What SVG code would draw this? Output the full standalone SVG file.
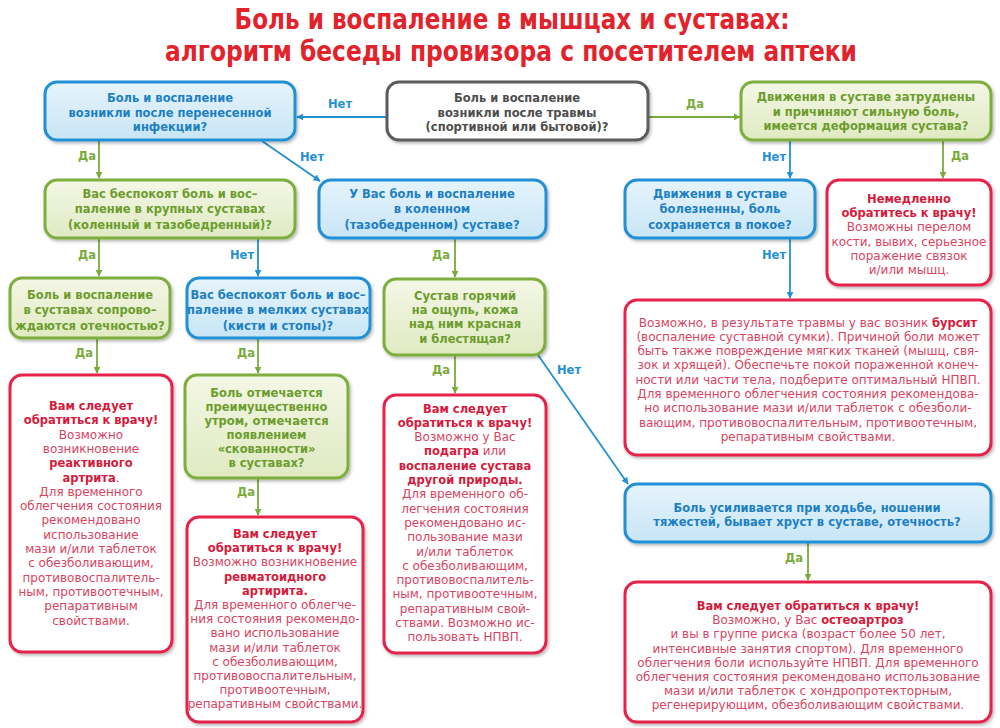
<svg xmlns="http://www.w3.org/2000/svg" width="1000" height="728" viewBox="0 0 1000 728">
<defs>
<linearGradient id="gBlue" x1="0" y1="0" x2="0" y2="1"><stop offset="0" stop-color="#e6f4fc"/><stop offset="1" stop-color="#c8e5f6"/></linearGradient>
<linearGradient id="gGreen" x1="0" y1="0" x2="0" y2="1"><stop offset="0" stop-color="#f4f7e6"/><stop offset="1" stop-color="#dfeac2"/></linearGradient>
<filter id="sh" x="-10%" y="-10%" width="120%" height="130%"><feDropShadow dx="1.5" dy="2" stdDeviation="1.5" flood-color="#000" flood-opacity="0.28"/></filter>
<marker id="aB" viewBox="0 0 10 10" refX="9" refY="5" markerWidth="7" markerHeight="7" markerUnits="userSpaceOnUse" orient="auto"><path d="M0,0 L10,5 L0,10 z" fill="#2490d5"/></marker>
<marker id="aG" viewBox="0 0 10 10" refX="9" refY="5" markerWidth="7" markerHeight="7" markerUnits="userSpaceOnUse" orient="auto"><path d="M0,0 L10,5 L0,10 z" fill="#7aab3a"/></marker>
<style>
.title{font-family:"Liberation Sans Narrow","DejaVu Sans Condensed","Liberation Sans",sans-serif;font-stretch:condensed;font-weight:700;font-size:28.5px;fill:#e2232c;text-anchor:middle}
.bb{fill:url(#gBlue);stroke:#2490d5;stroke-width:3;filter:url(#sh)}
.bg{fill:url(#gGreen);stroke:#7eae3d;stroke-width:3;filter:url(#sh)}
.bk{fill:#fff;stroke:#5b5b5b;stroke-width:3;filter:url(#sh)}
.br{fill:#fff;stroke:#e5224a;stroke-width:3;filter:url(#sh)}
.q{font-family:"DejaVu Sans","Liberation Sans",sans-serif;font-weight:700;font-size:11.5px;text-anchor:middle}
.qb{fill:#1d7fc3}.qg{fill:#6c9c2c}.qk{fill:#4d4d4d}
.r{font-family:"DejaVu Sans","Liberation Sans",sans-serif;font-weight:400;font-size:12px;text-anchor:middle;fill:#d9435f}
.rb{font-weight:700;font-size:11.5px;fill:#d6193a}
.lb{font-family:"DejaVu Sans","Liberation Sans",sans-serif;font-weight:700;font-size:11.5px;text-anchor:middle}
.lblue{fill:#2490d5}.lgreen{fill:#7aab3a}
.cb{stroke:#2490d5;stroke-width:1.8;fill:none;marker-end:url(#aB)}
.cg{stroke:#7aab3a;stroke-width:1.8;fill:none;marker-end:url(#aG)}
</style>
</defs>
<rect width="1000" height="728" fill="#fff"/>

<g id="title">
<text class="title" x="512" y="28.5" textLength="555" lengthAdjust="spacingAndGlyphs">Боль и воспаление в мышцах и суставах:</text>
<text class="title" x="511" y="60.5" textLength="692" lengthAdjust="spacingAndGlyphs">алгоритм беседы провизора с посетителем аптеки</text>
</g>

<g id="connectors">
<line class="cb" x1="387" y1="117" x2="297" y2="117"/>
<line class="cg" x1="648" y1="117" x2="740" y2="117"/>
<line class="cg" x1="99" y1="140" x2="99" y2="178"/>
<line class="cb" x1="262" y1="141" x2="320" y2="181"/>
<line class="cb" x1="790" y1="140" x2="790" y2="178"/>
<line class="cg" x1="943" y1="140" x2="943" y2="178"/>
<line class="cg" x1="99" y1="238" x2="99" y2="276"/>
<line class="cb" x1="258" y1="238" x2="258" y2="276"/>
<line class="cg" x1="455" y1="238" x2="455" y2="277"/>
<line class="cb" x1="790" y1="238" x2="790" y2="298"/>
<line class="cg" x1="97" y1="338" x2="97" y2="373"/>
<line class="cg" x1="258" y1="338" x2="258" y2="373"/>
<line class="cg" x1="455" y1="355" x2="455" y2="393"/>
<line class="cb" x1="538" y1="355" x2="628" y2="484"/>
<line class="cg" x1="258" y1="478" x2="258" y2="515"/>
<line class="cg" x1="808" y1="542" x2="808" y2="580"/>
<text class="lb lblue" x="340" y="108">Нет</text>
<text class="lb lgreen" x="695" y="108">Да</text>
<text class="lb lgreen" x="87" y="160">Да</text>
<text class="lb lblue" x="312" y="161">Нет</text>
<text class="lb lblue" x="774" y="161">Нет</text>
<text class="lb lgreen" x="960" y="160">Да</text>
<text class="lb lgreen" x="87" y="259">Да</text>
<text class="lb lblue" x="242" y="259">Нет</text>
<text class="lb lgreen" x="441" y="259">Да</text>
<text class="lb lblue" x="774" y="259">Нет</text>
<text class="lb lgreen" x="84" y="357">Да</text>
<text class="lb lgreen" x="246" y="357">Да</text>
<text class="lb lgreen" x="441" y="374">Да</text>
<text class="lb lblue" x="569" y="374">Нет</text>
<text class="lb lgreen" x="246" y="496">Да</text>
<text class="lb lgreen" x="794" y="562">Да</text>
</g>

<g id="infection">
<rect class="bb" x="45" y="82" width="250" height="58" rx="12"/>
<text class="q qb"><tspan x="170" y="102">Боль и воспаление</tspan><tspan x="170" y="116.5">возникли после перенесенной</tspan><tspan x="170" y="131">инфекции?</tspan></text>
</g>

<g id="trauma">
<rect class="bk" x="387" y="82" width="261" height="58" rx="12"/>
<text class="q qk"><tspan x="517" y="102">Боль и воспаление</tspan><tspan x="517" y="116.5">возникли после травмы</tspan><tspan x="517" y="131">(спортивной или бытовой)?</tspan></text>
</g>

<g id="movement">
<rect class="bg" x="741" y="82" width="250" height="58" rx="12"/>
<text class="q qg"><tspan x="866" y="101">Движения в суставе затруднены</tspan><tspan x="866" y="115.5">и причиняют сильную боль,</tspan><tspan x="866" y="130">имеется деформация сустава?</tspan></text>
</g>

<g id="large-joints">
<rect class="bg" x="45" y="180" width="250" height="58" rx="12"/>
<text class="q qg"><tspan x="170" y="198">Вас беспокоят боль и вос–</tspan><tspan x="170" y="213">паление в крупных суставах</tspan><tspan x="170" y="228.5">(коленный и тазобедренный)?</tspan></text>
</g>

<g id="knee">
<rect class="bb" x="319" y="180" width="227" height="58" rx="12"/>
<text class="q qb"><tspan x="432" y="198">У Вас боль и воспаление</tspan><tspan x="432" y="213">в коленном</tspan><tspan x="432" y="228.5">(тазобедренном) суставе?</tspan></text>
</g>

<g id="painful">
<rect class="bb" x="625" y="180" width="190" height="58" rx="12"/>
<text class="q qb"><tspan x="720" y="198">Движения в суставе</tspan><tspan x="720" y="213">болезненны, боль</tspan><tspan x="720" y="228.5">сохраняется в покое?</tspan></text>
</g>

<g id="immediately">
<rect class="br" x="827" y="180" width="164" height="105" rx="12"/>
<text class="r"><tspan class="rb" x="909" y="203">Немедленно</tspan><tspan class="rb" x="909" y="217.2">обратитесь к врачу!</tspan><tspan x="909" y="231.4">Возможны перелом</tspan><tspan x="909" y="245.6">кости, вывих, серьезное</tspan><tspan x="909" y="259.8">поражение связок</tspan><tspan x="909" y="274">и/или мышц.</tspan></text>
</g>

<g id="edema">
<rect class="bg" x="10" y="278" width="160" height="60" rx="12"/>
<text class="q qg"><tspan x="90" y="298.5">Боль и воспаление</tspan><tspan x="90" y="314">в суставах сопрово–</tspan><tspan x="90" y="329.5">ждаются отечностью?</tspan></text>
</g>

<g id="small-joints">
<rect class="bb" x="187" y="278" width="183" height="60" rx="12"/>
<text class="q qb"><tspan x="278" y="298.5">Вас беспокоят боль и вос–</tspan><tspan x="278" y="314">паление в мелких суставах</tspan><tspan x="278" y="329.5">(кисти и стопы)?</tspan></text>
</g>

<g id="hot">
<rect class="bg" x="384" y="279" width="161" height="76" rx="12"/>
<text class="q qg"><tspan x="465" y="299.5">Сустав горячий</tspan><tspan x="465" y="314">на ощупь, кожа</tspan><tspan x="465" y="328.3">над ним красная</tspan><tspan x="465" y="342.6">и блестящая?</tspan></text>
</g>

<g id="bursitis">
<rect class="br" x="625" y="300" width="366" height="155" rx="12"/>
<text class="r"><tspan x="808" y="326.5">Возможно, в результате травмы у вас возник <tspan class="rb">бурсит</tspan></tspan><tspan x="808" y="340.8">(воспаление суставной сумки). Причиной боли может</tspan><tspan x="808" y="355.1">быть также повреждение мягких тканей (мышц, свя-</tspan><tspan x="808" y="369.4">зок и хрящей). Обеспечьте покой пораженной конеч-</tspan><tspan x="808" y="383.7">ности или части тела, подберите оптимальный НПВП.</tspan><tspan x="808" y="398">Для временного облегчения состояния рекомендова-</tspan><tspan x="808" y="412.3">но использование мази и/или таблеток с обезболи-</tspan><tspan x="808" y="426.6">вающим, противовоспалительным, противоотечным,</tspan><tspan x="808" y="440.9">репаративным свойствами.</tspan></text>
</g>

<g id="reactive">
<rect class="br" x="10" y="375" width="162" height="277" rx="12"/>
<text class="r"><tspan class="rb" x="91" y="410">Вам следует</tspan><tspan class="rb" x="91" y="424.3">обратиться к врачу!</tspan><tspan x="91" y="438.6">Возможно</tspan><tspan x="91" y="452.9">возникновение</tspan><tspan class="rb" x="91" y="467.2">реактивного</tspan><tspan x="91" y="481.5"><tspan class="rb">артрита</tspan>.</tspan><tspan x="91" y="495.8">Для временного</tspan><tspan x="91" y="510.1">облегчения состояния</tspan><tspan x="91" y="524.4">рекомендовано</tspan><tspan x="91" y="538.7">использование</tspan><tspan x="91" y="553">мази и/или таблеток</tspan><tspan x="91" y="567.3">с обезболивающим,</tspan><tspan x="91" y="581.6">противовоспалитель-</tspan><tspan x="91" y="595.9">ным, противоотечным,</tspan><tspan x="91" y="610.2">репаративным</tspan><tspan x="91" y="624.5">свойствами.</tspan></text>
</g>

<g id="morning">
<rect class="bg" x="185" y="375" width="163" height="103" rx="12"/>
<text class="q qg"><tspan x="266.5" y="396.5">Боль отмечается</tspan><tspan x="266.5" y="410.5">преимущественно</tspan><tspan x="266.5" y="424.5">утром, отмечается</tspan><tspan x="266.5" y="438.5">появлением</tspan><tspan x="266.5" y="452.5">«скованности»</tspan><tspan x="266.5" y="466.5">в суставах?</tspan></text>
</g>

<g id="gout">
<rect class="br" x="384" y="395" width="162" height="258" rx="12"/>
<text class="r"><tspan class="rb" x="465" y="412.5">Вам следует</tspan><tspan class="rb" x="465" y="426.8">обратиться к врачу!</tspan><tspan x="465" y="441.1">Возможно у Вас</tspan><tspan x="465" y="455.4"><tspan class="rb">подагра</tspan> или</tspan><tspan class="rb" x="465" y="469.7">воспаление сустава</tspan><tspan class="rb" x="465" y="484">другой природы.</tspan><tspan x="465" y="498.3">Для временного об-</tspan><tspan x="465" y="512.6">легчения состояния</tspan><tspan x="465" y="526.9">рекомендовано ис-</tspan><tspan x="465" y="541.2">пользование мази</tspan><tspan x="465" y="555.5">и/или таблеток</tspan><tspan x="465" y="569.8">с обезболивающим,</tspan><tspan x="465" y="584.1">противовоспалитель-</tspan><tspan x="465" y="598.4">ным, противоотечным,</tspan><tspan x="465" y="612.7">репаративным свой-</tspan><tspan x="465" y="627">ствами. Возможно ис-</tspan><tspan x="465" y="641.3">пользовать НПВП.</tspan></text>
</g>

<g id="walking">
<rect class="bb" x="625" y="484" width="366" height="58" rx="12"/>
<text class="q qb"><tspan x="807" y="511.5">Боль усиливается при ходьбе, ношении</tspan><tspan x="807" y="525.5">тяжестей, бывает хруст в суставе, отечность?</tspan></text>
</g>

<g id="rheumatoid">
<rect class="br" x="187" y="517" width="176" height="205" rx="12"/>
<text class="r"><tspan class="rb" x="275" y="538">Вам следует</tspan><tspan class="rb" x="275" y="552.2">обратиться к врачу!</tspan><tspan x="275" y="566.4">Возможно возникновение</tspan><tspan class="rb" x="275" y="580.6">ревматоидного</tspan><tspan class="rb" x="275" y="594.8">артирита.</tspan><tspan x="275" y="609">Для временного облегче-</tspan><tspan x="275" y="623.2">ния состояния рекомендо-</tspan><tspan x="275" y="637.4">вано использование</tspan><tspan x="275" y="651.6">мази и/или таблеток</tspan><tspan x="275" y="665.8">с обезболивающим,</tspan><tspan x="275" y="680">противовоспалительным,</tspan><tspan x="275" y="694.2">противоотечным,</tspan><tspan x="275" y="708.4">репаративным свойствами.</tspan></text>
</g>

<g id="osteoarthrosis">
<rect class="br" x="625" y="582" width="366" height="140" rx="12"/>
<text class="r"><tspan class="rb" x="808" y="610">Вам следует обратиться к врачу!</tspan><tspan x="808" y="624.2">Возможно, у Вас <tspan class="rb">остеоартроз</tspan></tspan><tspan x="808" y="638.4">и вы в группе риска (возраст более 50 лет,</tspan><tspan x="808" y="652.6">интенсивные занятия спортом). Для временного</tspan><tspan x="808" y="666.8">облегчения боли используйте НПВП. Для временного</tspan><tspan x="808" y="681">облегчения состояния рекомендовано использование</tspan><tspan x="808" y="695.2">мази и/или таблеток с хондропротекторным,</tspan><tspan x="808" y="709.4">регенерирующим, обезболивающим свойствами.</tspan></text>
</g>
</svg>
